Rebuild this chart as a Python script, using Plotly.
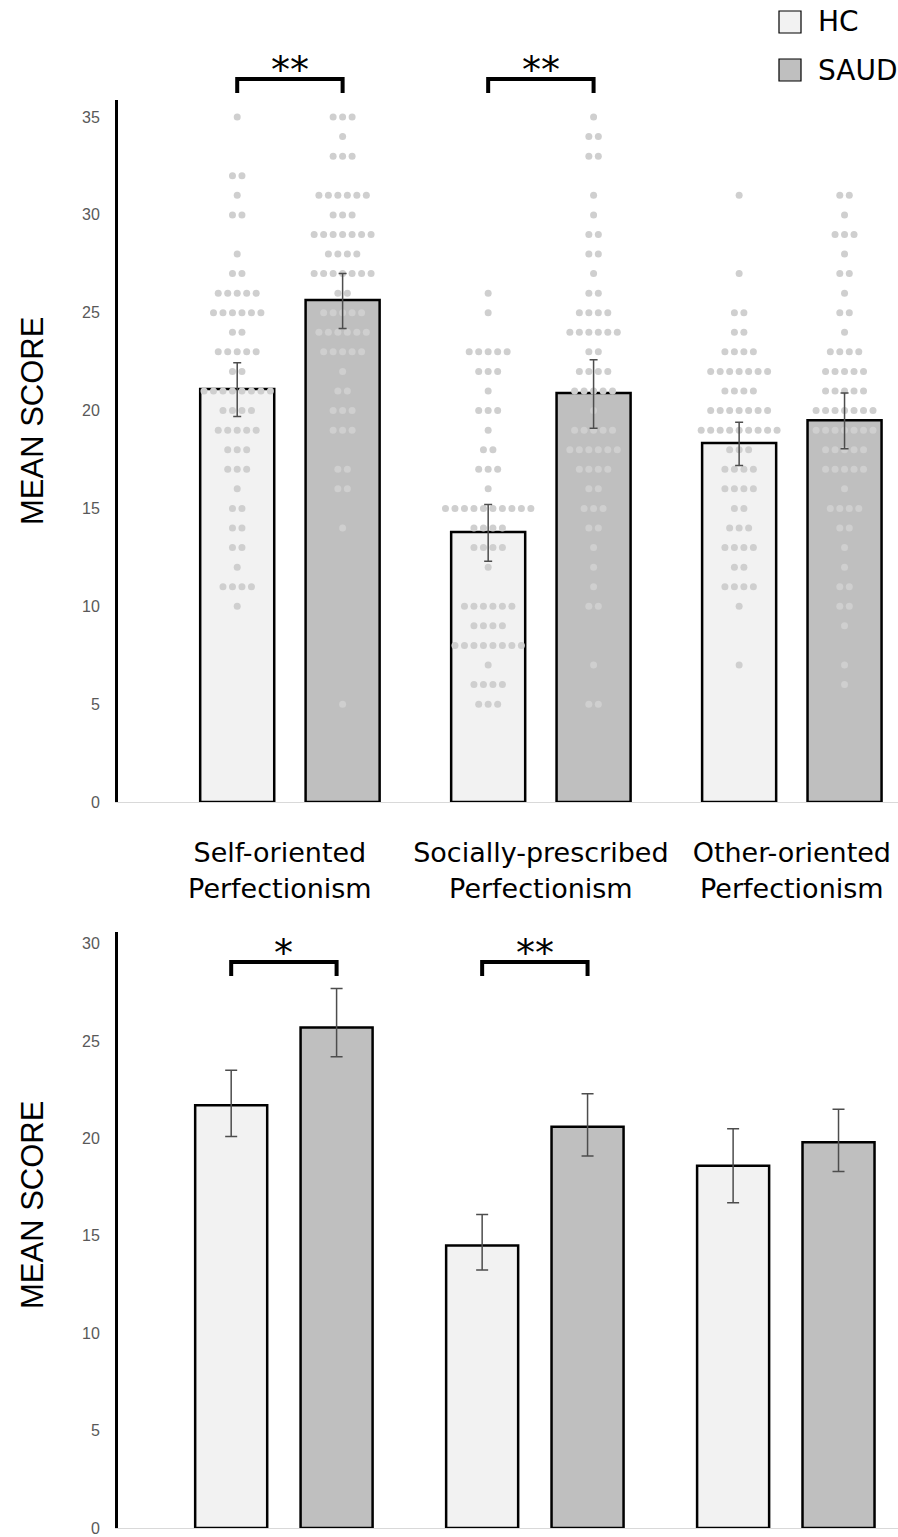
import plotly.graph_objects as go

# ---------------- data ----------------
GROUPS = ["Self-oriented<br>Perfectionism", "Socially-prescribed<br>Perfectionism",
          "Other-oriented<br>Perfectionism"]
LABEL_POS = [-0.04, 1.0, 2.0]

# top panel: bar means and asymmetric error bars
TOP_HC_MEAN = [21.1, 13.8, 18.35]
TOP_HC_ERR_UP = [1.35, 1.4, 1.05]
TOP_HC_ERR_DN = [1.4, 1.5, 1.15]
TOP_SAUD_MEAN = [25.65, 20.9, 19.5]
TOP_SAUD_ERR_UP = [1.35, 1.7, 1.4]
TOP_SAUD_ERR_DN = [1.45, 1.8, 1.45]

# bottom panel
BOT_HC_MEAN = [21.7, 14.5, 18.6]
BOT_HC_ERR_UP = [1.8, 1.6, 1.9]
BOT_HC_ERR_DN = [1.6, 1.25, 1.9]
BOT_SAUD_MEAN = [25.7, 20.6, 19.8]
BOT_SAUD_ERR_UP = [2.0, 1.7, 1.7]
BOT_SAUD_ERR_DN = [1.5, 1.5, 1.5]

# individual scores (score value, number of participants with it)
SELF_HC_SCORES = [35, 32, 31, 30, 28, 27, 26, 25, 24, 23, 22, 21, 20, 19, 18, 17, 16, 15, 14, 13, 12, 11, 10]
SELF_HC_COUNTS = [1, 2, 1, 2, 1, 2, 5, 6, 2, 5, 2, 8, 4, 5, 3, 3, 1, 2, 2, 2, 1, 4, 1]
SELF_SAUD_SCORES = [35, 34, 33, 31, 30, 29, 28, 27, 26, 25, 24, 23, 22, 21, 20, 19, 17, 16, 14, 5]
SELF_SAUD_COUNTS = [3, 1, 3, 6, 3, 7, 4, 7, 2, 5, 6, 5, 1, 2, 3, 3, 2, 2, 1, 1]
SOC_HC_SCORES = [26, 25, 23, 22, 21, 20, 19, 18, 17, 16, 15, 14, 13, 12, 10, 9, 8, 7, 6, 5]
SOC_HC_COUNTS = [1, 1, 5, 3, 1, 3, 1, 2, 3, 1, 10, 4, 4, 1, 6, 4, 8, 1, 4, 3]
SOC_SAUD_SCORES = [35, 34, 33, 31, 30, 29, 28, 27, 26, 25, 24, 23, 22, 21, 20, 19, 18, 17, 16, 15, 14, 13, 12, 11, 10, 7, 5]
SOC_SAUD_COUNTS = [1, 2, 2, 1, 1, 2, 2, 1, 2, 4, 6, 2, 4, 5, 1, 5, 6, 4, 2, 3, 2, 1, 1, 1, 2, 1, 2]
OTH_HC_SCORES = [31, 27, 25, 24, 23, 22, 21, 20, 19, 18, 17, 16, 15, 14, 13, 12, 11, 10, 7]
OTH_HC_COUNTS = [1, 1, 2, 2, 4, 7, 4, 7, 9, 3, 4, 4, 2, 3, 4, 2, 4, 1, 1]
OTH_SAUD_SCORES = [31, 30, 29, 28, 27, 26, 25, 24, 23, 22, 21, 20, 19, 18, 17, 16, 15, 14, 13, 12, 11, 10, 9, 7, 6]
OTH_SAUD_COUNTS = [2, 1, 3, 1, 2, 1, 2, 1, 4, 5, 5, 7, 7, 5, 5, 1, 4, 2, 1, 1, 2, 2, 1, 1, 1]

HC_DOTS = [(SELF_HC_SCORES, SELF_HC_COUNTS), (SOC_HC_SCORES, SOC_HC_COUNTS), (OTH_HC_SCORES, OTH_HC_COUNTS)]
SAUD_DOTS = [(SELF_SAUD_SCORES, SELF_SAUD_COUNTS), (SOC_SAUD_SCORES, SOC_SAUD_COUNTS), (OTH_SAUD_SCORES, OTH_SAUD_COUNTS)]

SIG_TOP = ["**", "**"]
SIG_BOT = ["*", "**"]

# ---------------- style ----------------
HC_COLOR = "#f2f2f2"
SAUD_COLOR = "#bfbfbf"
DOT_COLOR = "#cfcfcf"
ERR_COLOR = "#4d4d4d"
OFF = 0.21
BAR_W_TOP = 0.295
BAR_W_BOT = 0.287
DOT_STEP = 0.0378

W = 898
H = 1546          # rendered viewport height (picture is 1537 tall)
REF_H = 1537
L = 118
PW = W - L
TXT_FONT = "DejaVu Sans"
NUM_FONT = "Liberation Sans"


def py(pix):
    return (REF_H - pix) / REF_H


def pxp(pix):
    return (pix - L) / PW


fig = go.Figure()
idx = list(range(len(GROUPS)))


def add_bars(means, shift, color, width, xa, ya):
    xs = [i + shift for i in idx]
    fig.add_trace(go.Bar(x=xs, y=means, width=width, marker=dict(color=color, line=dict(color="black", width=2.5)),
                         xaxis=xa, yaxis=ya, showlegend=False, hoverinfo="skip"))
    return xs


def add_err(xs, means, up, dn, xa, ya, capw):
    fig.add_trace(go.Scatter(x=xs, y=means, mode="markers", marker=dict(size=1, color="rgba(0,0,0,0)"),
                             error_y=dict(type="data", symmetric=False, array=up, arrayminus=dn,
                                          color=ERR_COLOR, thickness=1.5, width=capw),
                             xaxis=xa, yaxis=ya, showlegend=False, hoverinfo="skip"))


# top panel
xs_hc = add_bars(TOP_HC_MEAN, -OFF, HC_COLOR, BAR_W_TOP, "x", "y")
xs_sa = add_bars(TOP_SAUD_MEAN, OFF, SAUD_COLOR, BAR_W_TOP, "x", "y")

dx, dy = [], []
for centers, dots in ((xs_hc, HC_DOTS), (xs_sa, SAUD_DOTS)):
    for c, (scores, counts) in zip(centers, dots):
        for s, n in zip(scores, counts):
            for k in range(n):
                dx.append(c + (k - (n - 1) / 2) * DOT_STEP)
                dy.append(s)
fig.add_trace(go.Scatter(x=dx, y=dy, mode="markers", marker=dict(size=7, color=DOT_COLOR),
                         xaxis="x", yaxis="y", showlegend=False, hoverinfo="skip"))
add_err(xs_hc, TOP_HC_MEAN, TOP_HC_ERR_UP, TOP_HC_ERR_DN, "x", "y", 4)
add_err(xs_sa, TOP_SAUD_MEAN, TOP_SAUD_ERR_UP, TOP_SAUD_ERR_DN, "x", "y", 4)

# bottom panel
bx_hc = add_bars(BOT_HC_MEAN, -OFF, HC_COLOR, BAR_W_BOT, "x2", "y2")
bx_sa = add_bars(BOT_SAUD_MEAN, OFF, SAUD_COLOR, BAR_W_BOT, "x2", "y2")
add_err(bx_hc, BOT_HC_MEAN, BOT_HC_ERR_UP, BOT_HC_ERR_DN, "x2", "y2", 6)
add_err(bx_sa, BOT_SAUD_MEAN, BOT_SAUD_ERR_UP, BOT_SAUD_ERR_DN, "x2", "y2", 6)

yaxis_common = dict(showline=True, linecolor="black", linewidth=3, showgrid=False, zeroline=False,
                    ticks="", tickfont=dict(family=NUM_FONT, size=16, color="#595959"),
                    ticklabelstandoff=12)
xaxis_common = dict(showline=True, linecolor="#d9d9d9", linewidth=1, showgrid=False, zeroline=False, ticks="")

fig.update_layout(
    width=W, height=H, margin=dict(l=L, r=0, t=0, b=0),
    plot_bgcolor="white", paper_bgcolor="white", barmode="overlay",
    xaxis=dict(**xaxis_common, domain=[0, 1], range=[-0.685, 2.423], tickvals=LABEL_POS, ticktext=GROUPS,
               tickfont=dict(family=TXT_FONT, size=27, color="black"), ticklabelstandoff=27, anchor="y"),
    yaxis=dict(**yaxis_common, domain=[py(802), py(100)], range=[0, 35.87], tickvals=list(range(0, 36, 5)), anchor="x"),
    xaxis2=dict(**xaxis_common, domain=[0, 1], range=[-0.661, 2.447], showticklabels=False, anchor="y2"),
    yaxis2=dict(**yaxis_common, domain=[py(1528), py(932)], range=[0, 30.6], tickvals=list(range(0, 31, 5)), anchor="x2"),
)

shapes = []
annos = []

# axis titles
for cy in (421, 1205):
    annos.append(dict(x=pxp(32), y=py(cy), xref="paper", yref="paper", text="MEAN SCORE", showarrow=False,
                      textangle=-90, xanchor="center", yanchor="middle",
                      font=dict(family=NUM_FONT, size=31, color="black")))

# significance brackets
for k, sig in enumerate(SIG_TOP):
    x0, x1 = xs_hc[k], xs_sa[k]
    shapes.append(dict(type="path", xref="x", yref="paper",
                       path=f"M {x0},{py(93)} L {x0},{py(79)} L {x1},{py(79)} L {x1},{py(93)}",
                       line=dict(color="black", width=4)))
    annos.append(dict(x=(x0 + x1) / 2, y=py(70), xref="x", yref="paper", text=sig, showarrow=False,
                      xanchor="center", yanchor="middle",
                      font=dict(family=TXT_FONT, size=38, color="black")))
for k, sig in enumerate(SIG_BOT):
    x0, x1 = bx_hc[k], bx_sa[k]
    shapes.append(dict(type="path", xref="x2", yref="paper",
                       path=f"M {x0},{py(976)} L {x0},{py(962)} L {x1},{py(962)} L {x1},{py(976)}",
                       line=dict(color="black", width=4)))
    annos.append(dict(x=(x0 + x1) / 2, y=py(953), xref="x2", yref="paper", text=sig, showarrow=False,
                      xanchor="center", yanchor="middle",
                      font=dict(family=TXT_FONT, size=38, color="black")))

# legend (drawn manually)
for label, color, cy in (("HC", HC_COLOR, 22), ("SAUD", SAUD_COLOR, 70)):
    shapes.append(dict(type="rect", xref="paper", yref="paper",
                       x0=pxp(779), x1=pxp(801), y0=py(cy + 11), y1=py(cy - 11),
                       fillcolor=color, line=dict(color="black", width=1.2)))
    annos.append(dict(x=pxp(816), y=py(cy), xref="paper", yref="paper", text=label, showarrow=False,
                      xanchor="left", yanchor="middle", font=dict(family=TXT_FONT, size=28, color="black")))

fig.update_layout(shapes=shapes, annotations=annos)
fig.write_html(
    "out.html",
    config={"displayModeBar": False},
    post_script=("document.documentElement.style.overflow='hidden';"
                 "document.body.style.margin='0';document.body.style.overflow='hidden';"
                 "var d=document.getElementsByClassName('plotly-graph-div')[0];"
                 "d.style.position='fixed';d.style.left='0px';d.style.top='0px';"),
)
